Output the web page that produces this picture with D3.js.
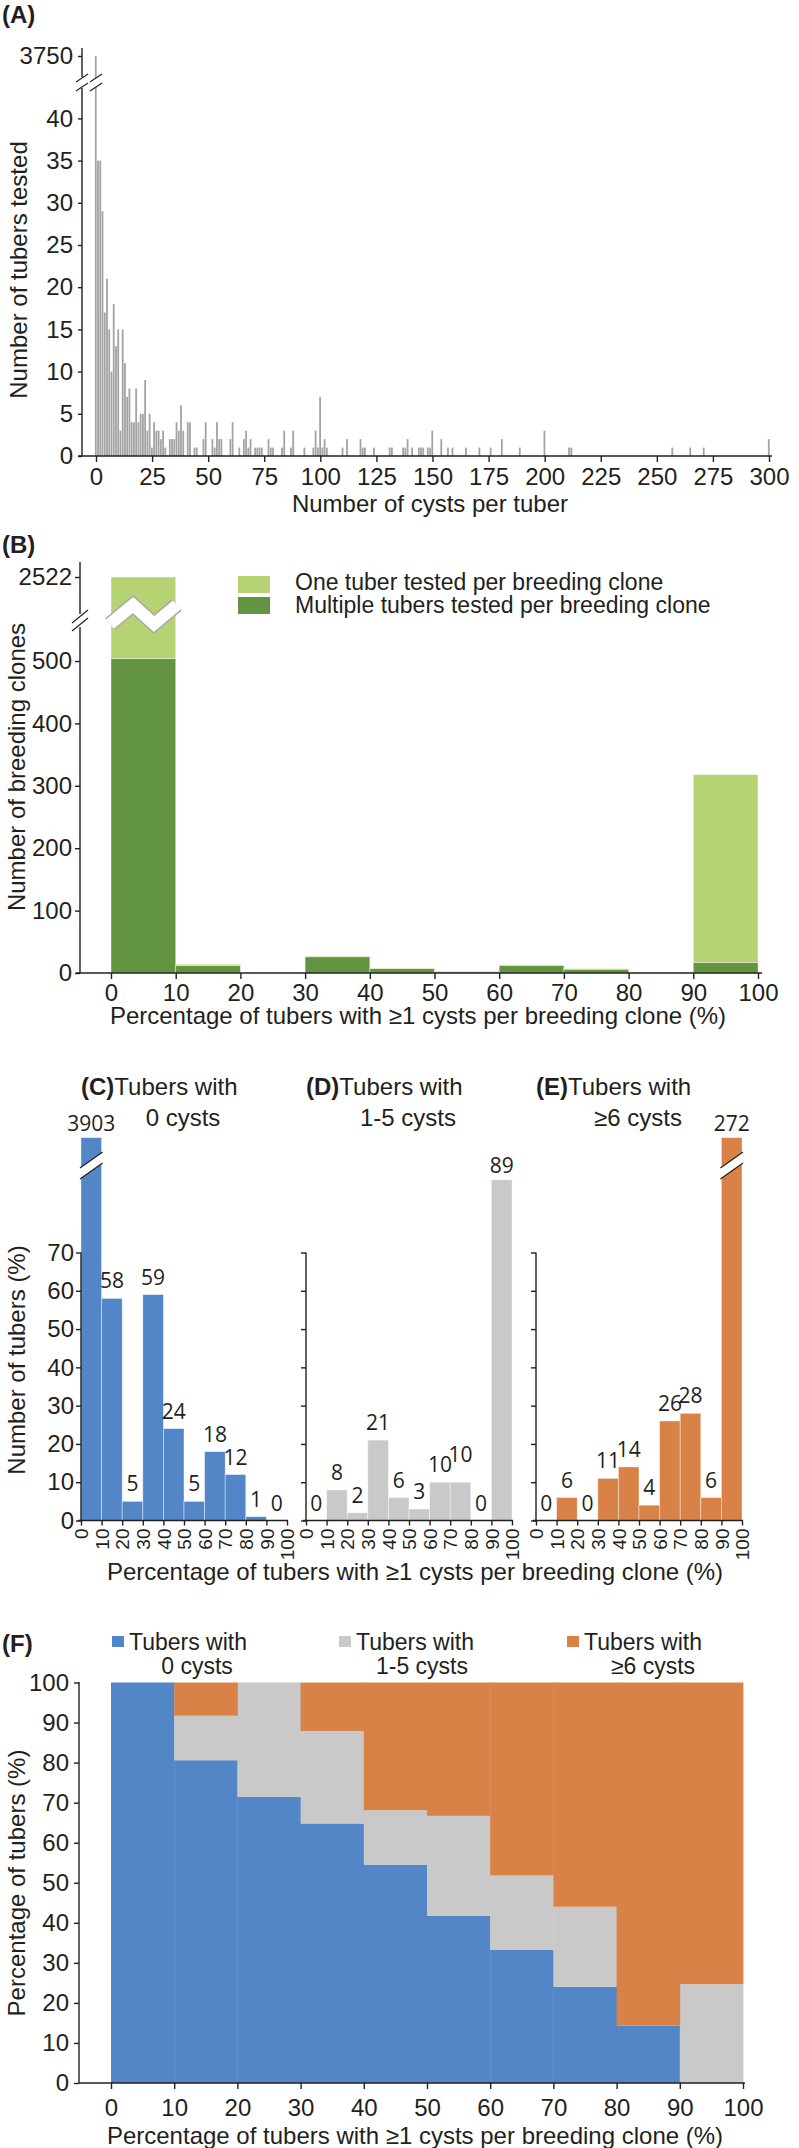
<!DOCTYPE html>
<html>
<head>
<meta charset="utf-8">
<script src="https://cdn.jsdelivr.net/npm/d3@7/dist/d3.min.js"></script>
<style>
body { margin: 0; background: #fff; }
svg { display: block; font-family: "Liberation Sans", Arial, sans-serif; }
</style>
</head>
<body>
<svg id="fig" width="799" height="2148"></svg>
<script>
'use strict';

// ---- (A) histogram of cysts per tuber ----
var cystsPerTuber = [
  0, 1, 2, 3, 4, 5, 6, 7, 8, 9, 10, 11, 12, 13, 14, 15, 16, 17, 18, 19, 20,
  21, 22, 23, 24, 25, 26, 27, 28, 29, 30, 31, 33, 34, 35, 36, 37, 38, 39,
  41, 42, 44, 45, 48, 49, 52, 53, 54, 55, 56, 60, 61, 64, 66, 67, 68, 69,
  71, 72, 73, 74, 77, 78, 79, 83, 84, 87, 88, 93, 97, 98, 99, 100, 101, 102, 103,
  110, 112, 118, 119, 120, 124, 131, 132, 137, 138, 139, 141, 144, 145, 146,
  148, 149, 150, 154, 157, 159, 165, 171, 176, 181, 189, 200, 211, 212,
  257, 265, 271, 300
];
var tubersTested = [
  3750, 35, 35, 29, 17, 21, 15, 10, 18, 13, 15, 3, 15, 11, 7, 8, 4, 4, 8, 4, 5,
  5, 9, 3, 5, 1, 4, 3, 3, 2, 3, 1, 2, 2, 2, 4, 3, 6, 3,
  4, 4, 1, 1, 2, 4, 2, 1, 4, 2, 2, 2, 4, 1, 2, 3, 1, 2,
  1, 1, 1, 1, 2, 1, 1, 1, 3, 1, 3, 1, 1, 3, 1, 7, 1, 2, 1,
  1, 2, 2, 1, 1, 1, 1, 1, 1, 1, 2, 1, 1, 1, 1,
  1, 1, 3, 2, 1, 1, 1, 1, 1, 2, 1, 3, 1, 1,
  1, 1, 1, 2
];
var cystTicks = [0, 25, 50, 75, 100, 125, 150, 175, 200, 225, 250, 275, 300];
var tuberTicks = [0, 5, 10, 15, 20, 25, 30, 35, 40];
var tuberTopTick = 3750;

// ---- (B) breeding clones per percentage class ----
var pctBins = [0, 10, 20, 30, 40, 50, 60, 70, 80, 90];
var pctTicks = [0, 10, 20, 30, 40, 50, 60, 70, 80, 90, 100];
var multiTuberClones = [504, 12, 0, 26, 7, 2, 12, 6, 0, 17];
var oneTuberClones = [2018, 2, 0, 1, 1, 1, 1, 1, 1, 301];
var cloneTicks = [0, 100, 200, 300, 400, 500];
var cloneTopTick = 2522;

// ---- (C)(D)(E) number of tubers per class ----
var zeroCystTubers = [3903, 58, 5, 59, 24, 5, 18, 12, 1, 0];
var lowCystTubers = [0, 8, 2, 21, 6, 3, 10, 10, 0, 89];
var highCystTubers = [0, 6, 0, 11, 14, 4, 26, 28, 6, 272];
var tuberPctTicks = [0, 10, 20, 30, 40, 50, 60, 70];

// ---- (F) share of tubers per class ----
var zeroCystShare = [100, 80.6, 71.4, 64.8, 54.5, 41.7, 33.3, 24, 14.3, 0];
var lowCystShare = [0, 11.1, 28.6, 23.1, 13.6, 25, 18.5, 20, 0, 24.7];
var highCystShare = [0, 8.3, 0, 12.1, 31.9, 33.3, 48.2, 56, 85.7, 75.3];
var shareTicks = [0, 10, 20, 30, 40, 50, 60, 70, 80, 90, 100];

var ink = '#231f20';
var gray = '#a3a3a3';
var greenDark = '#629441';
var greenLight = '#b6d374';
var blue = '#5286c6';
var lightGray = '#c9c9c9';
var orange = '#d88248';
var xTitle = 'Percentage of tubers with \u22651 cysts per breeding clone (%)';
var plain = d3.format('d');

var svg = d3.select('#fig');
svg.append('rect').attr('width', 799).attr('height', 2148).attr('fill', '#fff');

function line(g, x1, y1, x2, y2, w) {
  g.append('line')
    .attr('x1', x1).attr('y1', y1).attr('x2', x2).attr('y2', y2)
    .attr('stroke', ink).attr('stroke-width', w || 1.4);
}

function label(g, txt, x, y, size, anchor) {
  return g.append('text')
    .attr('x', x).attr('y', y)
    .attr('fill', ink)
    .attr('font-size', size)
    .attr('text-anchor', anchor || 'start')
    .text(txt);
}

function yLabel(g, txt, x, y) {
  g.append('text')
    .attr('transform', 'translate(' + x + ',' + y + ') rotate(-90)')
    .attr('text-anchor', 'middle')
    .attr('fill', ink)
    .attr('font-size', 24)
    .text(txt);
}

function styleAxis(g, size) {
  g.attr('font-family', null).attr('font-size', size);
  g.select('.domain').remove();
  g.selectAll('.tick line').attr('stroke', ink).attr('stroke-width', 1.4);
  g.selectAll('.tick text').attr('fill', ink);
}

// ================= (A) =================
var gA = svg.append('g');
var xA = d3.scaleLinear().domain([0, 300]).range([96, 769]);
var yA = d3.scaleLinear().domain([0, 40]).range([456, 118.4]);
var yAtop = d3.scaleLinear().domain([3740, 3750]).range([66, 56]);
function yAbar(v) { return v > 45 ? yAtop(v) : yA(v); }
var bwA = xA(1) - xA(0);

gA.selectAll('rect.bar')
  .data(cystsPerTuber)
  .enter()
  .append('rect')
  .attr('class', 'bar')
  .attr('x', d => xA(d) - bwA / 2)
  .attr('width', bwA - 0.45)
  .attr('y', (d, i) => yAbar(tubersTested[i]))
  .attr('height', (d, i) => yA(0) - yAbar(tubersTested[i]))
  .attr('fill', gray);

// axis break on the tallest bar
gA.append('polygon')
  .attr('points', '90,82 102,74 102,83 90,91')
  .attr('fill', '#fff');
line(gA, 90, 82, 102, 74, 1.2);
line(gA, 90, 91, 102, 83, 1.2);

gA.append('g')
  .attr('transform', 'translate(82,0)')
  .call(d3.axisLeft(yA).tickValues(tuberTicks).tickSize(4).tickPadding(5))
  .call(g => styleAxis(g, 24));
gA.append('g')
  .attr('transform', 'translate(82,0)')
  .call(d3.axisLeft(yAtop).tickValues([tuberTopTick]).tickFormat(plain).tickSize(4).tickPadding(5))
  .call(g => styleAxis(g, 24));
line(gA, 82, 456, 82, 88);
line(gA, 82, 77, 82, 48);
line(gA, 76, 82, 88, 74, 1.2);
line(gA, 76, 91, 88, 83, 1.2);

gA.append('g')
  .attr('transform', 'translate(0,456)')
  .call(d3.axisBottom(xA).tickValues(cystTicks).tickSize(6).tickPadding(6))
  .call(g => styleAxis(g, 24));
line(gA, 78, 456, 772, 456);

label(gA, '(A)', 2, 23, 24).attr('font-weight', 'bold');
yLabel(gA, 'Number of tubers tested', 27, 270);
label(gA, 'Number of cysts per tuber', 430, 512, 24, 'middle');

// ================= (B) =================
var gB = svg.append('g');
var xB = d3.scaleLinear().domain([0, 100]).range([111, 758]);
var yB = d3.scaleLinear().domain([0, 500]).range([973, 661]);
var yBtop = d3.scaleLinear().domain([2500, 2522]).range([590, 577]);
function yBbar(v) { return v > 520 ? yBtop(v) : yB(v); }
var bwB = xB(10) - xB(0);

gB.selectAll('rect.multi')
  .data(pctBins)
  .enter()
  .append('rect')
  .attr('x', d => xB(d))
  .attr('width', bwB)
  .attr('y', (d, i) => yBbar(multiTuberClones[i]))
  .attr('height', (d, i) => yB(0) - yBbar(multiTuberClones[i]))
  .attr('fill', greenDark)
  .attr('stroke', '#fff').attr('stroke-opacity', 0.45).attr('stroke-width', 0.8);

gB.selectAll('rect.one')
  .data(pctBins)
  .enter()
  .append('rect')
  .attr('x', d => xB(d))
  .attr('width', bwB)
  .attr('y', (d, i) => yBbar(multiTuberClones[i] + oneTuberClones[i]))
  .attr('height', (d, i) => yBbar(multiTuberClones[i]) - yBbar(multiTuberClones[i] + oneTuberClones[i]))
  .attr('fill', greenLight)
  .attr('stroke', '#fff').attr('stroke-opacity', 0.45).attr('stroke-width', 0.8);

// zig-zag break across the first bar
var zig = [[xB(0) - 1, 624], [xB(0) + 22, 605], [xB(0) + 43, 624], [xB(10) + 1, 605]];
gB.append('polyline')
  .attr('points', zig.map(p => p.join(',')).join(' '))
  .attr('fill', 'none').attr('stroke', '#a8a8a8').attr('stroke-width', 15)
  .attr('stroke-linejoin', 'miter');
gB.append('polyline')
  .attr('points', zig.map(p => p.join(',')).join(' '))
  .attr('fill', 'none').attr('stroke', '#fff').attr('stroke-width', 12)
  .attr('stroke-linejoin', 'miter');

gB.append('g')
  .attr('transform', 'translate(80,0)')
  .call(d3.axisLeft(yB).tickValues(cloneTicks).tickSize(5).tickPadding(3))
  .call(g => styleAxis(g, 24));
gB.append('g')
  .attr('transform', 'translate(80,0)')
  .call(d3.axisLeft(yBtop).tickValues([cloneTopTick]).tickFormat(plain).tickSize(5).tickPadding(3))
  .call(g => styleAxis(g, 24));
line(gB, 80, 973, 80, 627);
line(gB, 80, 614, 80, 562);
line(gB, 72, 623, 88, 610, 1.2);
line(gB, 72, 631, 88, 618, 1.2);

gB.append('g')
  .attr('transform', 'translate(0,973)')
  .call(d3.axisBottom(xB).tickValues(pctTicks).tickSize(6).tickPadding(5))
  .call(g => styleAxis(g, 24));
line(gB, 76, 973, 762, 973);

gB.append('rect').attr('x', 238).attr('y', 576).attr('width', 32).attr('height', 17).attr('fill', greenLight);
gB.append('rect').attr('x', 238).attr('y', 597).attr('width', 32).attr('height', 17).attr('fill', greenDark);
label(gB, 'One tuber tested per breeding clone', 295, 590, 23);
label(gB, 'Multiple tubers tested per breeding clone', 295, 613, 23);

label(gB, '(B)', 2, 553, 24).attr('font-weight', 'bold');
yLabel(gB, 'Number of breeding clones', 25, 767);
label(gB, xTitle, 418, 1024, 24, 'middle');

// ================= (C)(D)(E) =================
var gC = svg.append('g');
var yC = d3.scaleLinear().domain([0, 70]).range([1520.5, 1252.5]);
var small = [
  { tag: '(C)', x0: 81, values: zeroCystTubers, color: blue, sub: '0 cysts', labels: true },
  { tag: '(D)', x0: 306, values: lowCystTubers, color: lightGray, sub: '1-5 cysts', labels: false },
  { tag: '(E)', x0: 536, values: highCystTubers, color: orange, sub: '\u22656 cysts', labels: false }
];

small.forEach(function (p) {
  var xs = d3.scaleLinear().domain([0, 100]).range([p.x0, p.x0 + 206]);
  var bw = xs(10) - xs(0);
  var top = v => yC(Math.min(v, 100));
  var g = gC.append('g');

  g.selectAll('rect')
    .data(pctBins)
    .enter()
    .append('rect')
    .attr('x', d => xs(d))
    .attr('width', bw)
    .attr('y', (d, i) => top(p.values[i]))
    .attr('height', (d, i) => yC(0) - top(p.values[i]))
    .attr('fill', p.color)
    .attr('stroke', '#fff').attr('stroke-opacity', 0.5).attr('stroke-width', 0.8);

  // broken bars
  pctBins.forEach(function (b, i) {
    if (p.values[i] <= 100) return;
    var L = xs(b) - 1, R = xs(b + 10) + 1;
    g.append('polygon')
      .attr('points', [[L, 1168], [R, 1152], [R, 1163], [L, 1179]].map(q => q.join(',')).join(' '))
      .attr('fill', '#fff');
    line(g, L, 1168, R, 1152, 1.2);
    line(g, L, 1179, R, 1163, 1.2);
  });

  // value labels, nudged up when two equal neighbours would touch
  var labelY = p.values.map(function (v, i) {
    var y = top(v) - (v > 80 ? 7 : 10);
    if (i > 0 && p.values[i - 1] === v && v > 0) y -= 10;
    return y;
  });
  g.selectAll('text.val')
    .data(pctBins)
    .enter()
    .append('text')
    .attr('class', 'val')
    .attr('x', d => xs(d + 5))
    .attr('y', (d, i) => labelY[i])
    .attr('text-anchor', 'middle')
    .attr('font-family', '"Open Sans", sans-serif')
    .attr('font-size', 21)
    .attr('fill', ink)
    .text((d, i) => p.values[i]);

  var ax = d3.axisLeft(yC).tickValues(tuberPctTicks).tickSize(5).tickPadding(2);
  if (!p.labels) ax.tickFormat('');
  g.append('g')
    .attr('transform', 'translate(' + p.x0 + ',0)')
    .call(ax)
    .call(a => styleAxis(a, 24));
  line(g, p.x0, yC(0), p.x0, yC(70));

  g.append('g')
    .attr('transform', 'translate(0,' + yC(0) + ')')
    .call(d3.axisBottom(xs).tickValues(pctTicks).tickSize(5))
    .call(a => styleAxis(a, 19))
    .call(a => a.selectAll('.tick text')
      .attr('transform', 'rotate(-90)')
      .attr('x', -8).attr('y', 0).attr('dy', '0.35em')
      .attr('text-anchor', 'end'));
  line(g, p.x0 - 3, yC(0), p.x0 + 207, yC(0));

  var t = g.append('text').attr('x', p.x0).attr('y', 1095).attr('font-size', 24).attr('fill', ink);
  t.append('tspan').attr('font-weight', 'bold').text(p.tag);
  t.append('tspan').text('Tubers with');
  label(g, p.sub, p.x0 + 102, 1126, 24, 'middle');
});

yLabel(gC, 'Number of tubers (%)', 25, 1360);
label(gC, xTitle, 415, 1580, 24, 'middle');

// ================= (F) =================
var gF = svg.append('g');
var xF = d3.scaleLinear().domain([0, 100]).range([111, 743]);
var yF = d3.scaleLinear().domain([0, 100]).range([2083, 1682.5]);
var rows = pctBins.map((b, i) => ({ bin: b, none: zeroCystShare[i], low: lowCystShare[i], high: highCystShare[i] }));
var layers = d3.stack().keys(['none', 'low', 'high'])(rows);
var shareColors = { none: blue, low: lightGray, high: orange };
var bwF = xF(10) - xF(0);

layers.forEach(function (layer) {
  gF.selectAll('rect.' + layer.key)
    .data(layer)
    .enter()
    .append('rect')
    .attr('x', d => xF(d.data.bin))
    .attr('width', bwF + 0.4)
    .attr('y', d => yF(Math.min(d[1], 100)))
    .attr('height', d => Math.max(0, yF(d[0]) - yF(Math.min(d[1], 100))))
    .attr('fill', shareColors[layer.key]);
});

gF.append('g')
  .attr('transform', 'translate(79,0)')
  .call(d3.axisLeft(yF).tickValues(shareTicks).tickSize(5).tickPadding(5))
  .call(g => styleAxis(g, 24));
line(gF, 79, 2083, 79, 1682);
gF.append('g')
  .attr('transform', 'translate(0,2083)')
  .call(d3.axisBottom(xF).tickValues(pctTicks).tickSize(6).tickPadding(10))
  .call(g => styleAxis(g, 24));
line(gF, 79, 2083, 745, 2083);

var legendF = [
  { color: blue, x: 112, sub: '0 cysts', cx: 197 },
  { color: lightGray, x: 339, sub: '1-5 cysts', cx: 422 },
  { color: orange, x: 567, sub: '\u22656 cysts', cx: 653 }
];
legendF.forEach(function (l) {
  gF.append('rect').attr('x', l.x).attr('y', 1636).attr('width', 12).attr('height', 11).attr('fill', l.color);
  label(gF, 'Tubers with', l.x + 17, 1650, 23);
  label(gF, l.sub, l.cx, 1674, 23, 'middle');
});

label(gF, '(F)', 2, 1652, 24).attr('font-weight', 'bold');
yLabel(gF, 'Percentage of tubers (%)', 25, 1883);
label(gF, xTitle, 415, 2144, 24, 'middle');
</script>
</body>
</html>
